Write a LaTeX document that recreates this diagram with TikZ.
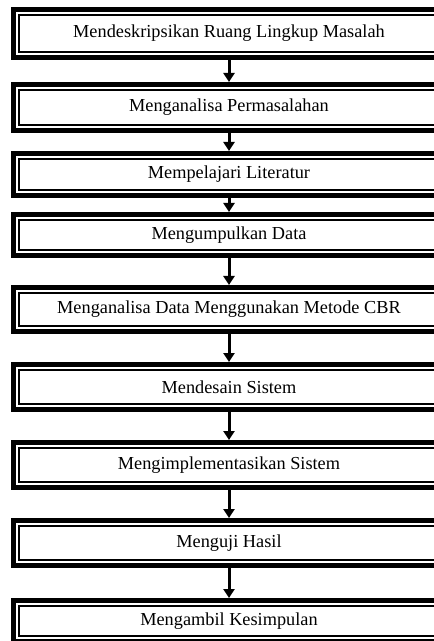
\documentclass[tikz,border=0pt]{standalone}
\usepackage{fontspec}
\setmainfont{Liberation Serif}
\usetikzlibrary{arrows.meta}

\tikzset{
  kotak/.style={draw, line width=2.5pt, inner sep=0pt, minimum width=215.5pt,
    font=\fontsize{9.15}{11}\selectfont},
  garis/.style={line width=0.6pt},
  panah/.style={line width=1.5pt, -{Triangle[width=5.5pt,length=4.5pt]}}
}

\begin{document}
\begin{tikzpicture}[x=0.5pt,y=-0.5pt]
  \useasboundingbox (0,0) rectangle (433,641);
  \node[kotak, minimum height=24pt]   (lingkup) at (229,33.5) {Mendeskripsikan Ruang Lingkup Masalah};
  \node[kotak, minimum height=23pt]   (analisa) at (229,107.5) {Menganalisa Permasalahan};
  \node[kotak, minimum height=21pt]   (literatur) at (229,174.5) {Mempelajari Literatur};
  \node[kotak, minimum height=20.5pt] (data) at (229,235) {Mengumpulkan Data};
  \node[kotak, minimum height=22pt]   (cbr) at (229,309.5) {Menganalisa Data Menggunakan Metode CBR};
  \node[kotak, minimum height=22.5pt] (desain) at (229,387) {Mendesain Sistem};
  \node[kotak, minimum height=22.5pt] (implementasi) at (229,465) {Mengimplementasikan Sistem};
  \node[kotak, minimum height=22.5pt] (uji) at (229,543) {Menguji Hasil};
  \node[kotak, minimum height=20.5pt] (simpulan) at (229,621) {Mengambil Kesimpulan};

  \foreach \n in {lingkup,analisa,literatur,data,cbr,desain,implementasi,uji,simpulan}
    \draw[garis] ([shift={(4pt,-4pt)}]\n.north west) rectangle ([shift={(-4pt,4pt)}]\n.south east);

  \foreach \a/\b in {lingkup/analisa,analisa/literatur,literatur/data,data/cbr,
                     cbr/desain,desain/implementasi,implementasi/uji,uji/simpulan}
    \draw[panah] (\a) -- (\b);
\end{tikzpicture}
\end{document}
